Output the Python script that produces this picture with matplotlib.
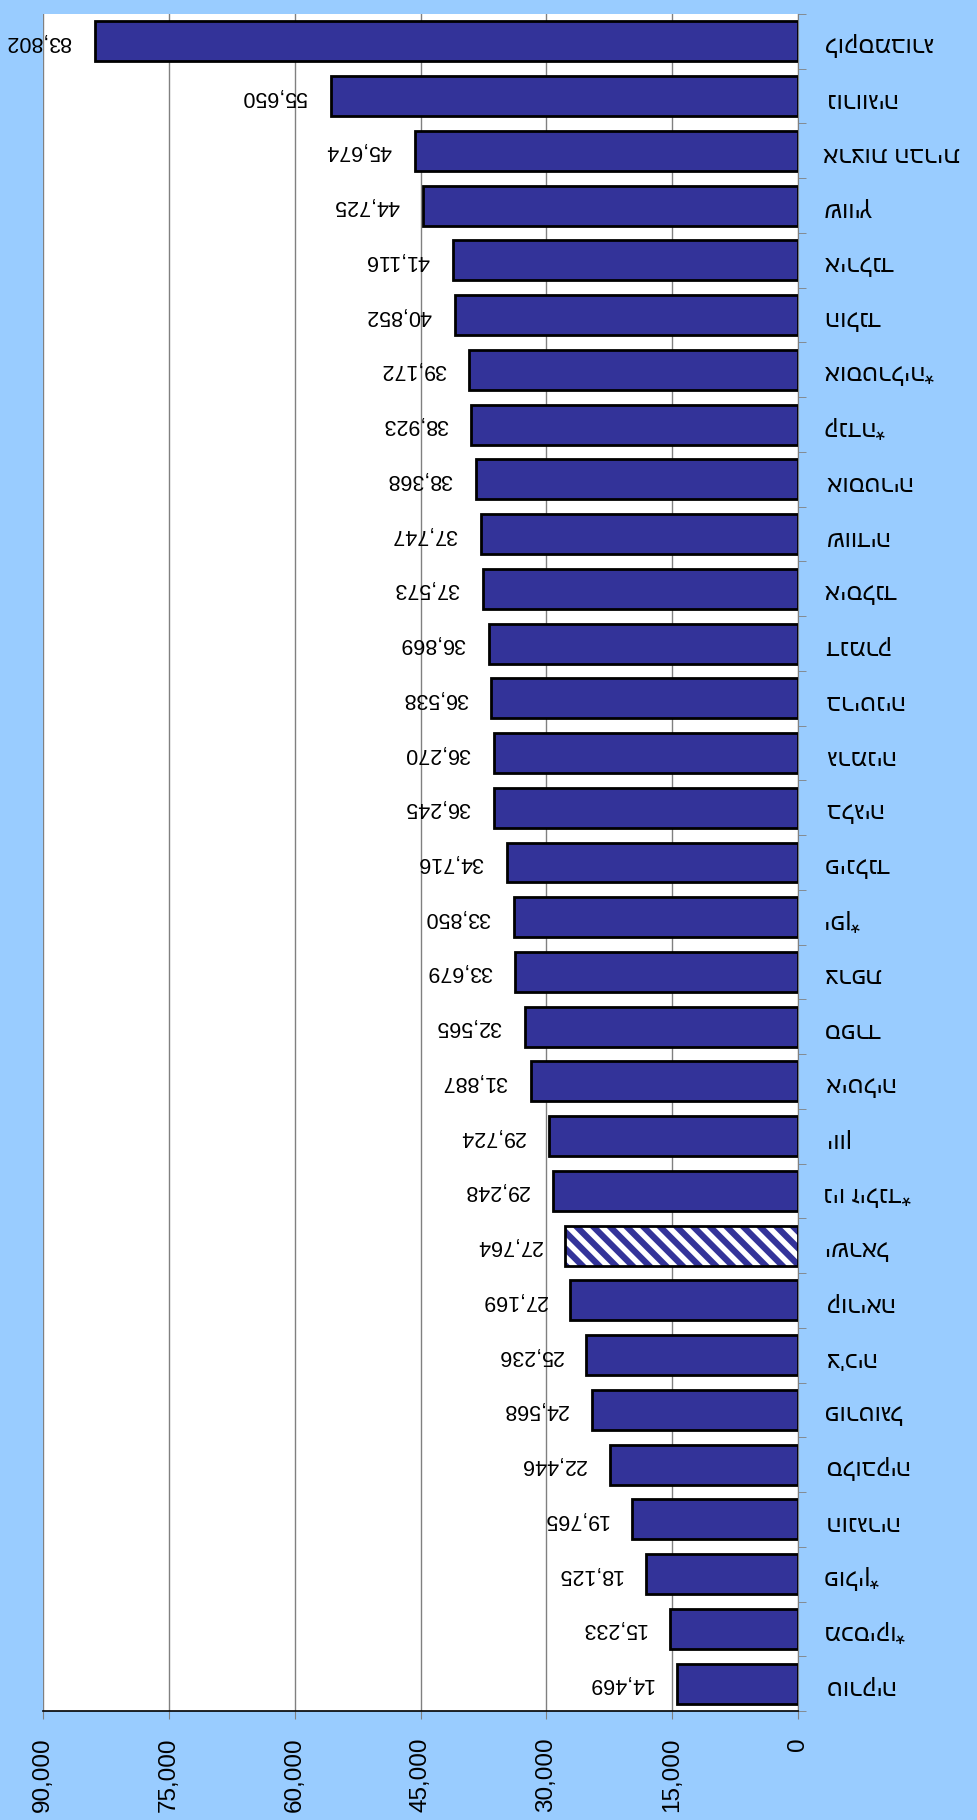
import matplotlib
matplotlib.use("Agg")
import matplotlib.pyplot as plt
import numpy as np

countries = ["לוקסמבורג", "נורווגיה", "ארצות הברית", "שוויץ", "אירלנד", "הולנד",
             "אוסטרליה*", "קנדה*", "אוסטריה", "שוודיה", "איסלנד", "דנמרק",
             "בריטניה", "גרמניה", "בלגיה", "פינלנד", "יפן*", "צרפת", "ספרד",
             "איטליה", "יוון", "ניו זילנד*", "ישראל", "קוריאה", "צ'כיה",
             "פורטוגל", "סלובקיה", "הונגריה", "פולין*", "מכסיקו*", "טורקיה"]
values = [83802, 55650, 45674, 44725, 41116, 40852, 39172, 38923, 38368, 37747,
          37573, 36869, 36538, 36270, 36245, 34716, 33850, 33679, 32565, 31887,
          29724, 29248, 27764, 27169, 25236, 24568, 22446, 19765, 18125, 15233,
          14469]
highlight = "ישראל"
xticks = [0, 15000, 30000, 45000, 60000, 75000, 90000]

plt.rcParams['font.family'] = ['Liberation Sans', 'DejaVu Sans']
plt.rcParams['hatch.linewidth'] = 4.5

bg = "#99ccff"
navy = "#333399"

fig = plt.figure(figsize=(9.77, 18.20), dpi=100, facecolor=bg)
ax = fig.add_axes([43 / 977, 1 - 1711 / 1820, (798 - 43) / 977, (1711 - 14) / 1820])
ax.set_facecolor("white")

y = np.arange(len(countries))
for i, (c, v) in enumerate(zip(countries, values)):
    if c == highlight:
        ax.barh(i, v, height=0.73, color="white", edgecolor=navy, hatch="\\\\", linewidth=0, zorder=3)
        ax.barh(i, v, height=0.73, fill=False, edgecolor="black", linewidth=2, zorder=4)
    else:
        ax.barh(i, v, height=0.73, color=navy, edgecolor="black", linewidth=2, zorder=3)
    ax.annotate(f"{v:,}", (v, i), xytext=(-17, 0), textcoords="offset points",
                ha="right", va="center", rotation=180, fontsize=15.5)

ax.set_xlim(90000, 0)
ax.set_ylim(len(countries) - 0.5, -0.5)
ax.set_xticks(xticks)
ax.set_xticklabels([f"{t:,}" for t in xticks], rotation=90, va="top", ha="center", fontsize=17.5)
ax.xaxis.grid(True, color="#808080", linewidth=1, zorder=0)
ax.set_axisbelow(True)

ax.yaxis.tick_right()
ax.set_yticks(y)
ax.set_yticklabels([c[::-1] for c in countries], rotation=180, fontsize=17.5, ha="left")
ax.set_yticks(np.arange(len(countries) + 1) - 0.5, minor=True)
ax.tick_params(axis="y", which="major", length=0, pad=18)
ax.tick_params(axis="y", which="minor", length=6, color="#808080", direction="out")
ax.tick_params(axis="x", length=6, color="#808080", pad=13)

for s in ["top", "left"]:
    ax.spines[s].set_visible(False)
ax.spines["right"].set_color("#808080")
ax.spines["bottom"].set_color("black")
ax.spines["bottom"].set_linewidth(1.2)

fig.savefig("out.png", dpi=100, facecolor=bg)
